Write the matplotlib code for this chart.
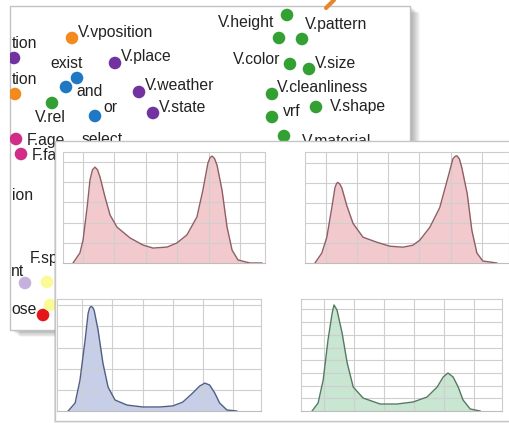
import matplotlib.pyplot as plt
from matplotlib.patches import Rectangle

plt.rcParams["font.family"] = ["Liberation Sans", "DejaVu Sans"]

# background word map (pixel positions)
point_x = [72, 14, 115, 15, 77, 66, 52, 95, 139, 153, 16, 21, 25, 47, 43, 50,
           287, 279, 302, 290, 309, 272, 316, 272, 284]
point_y = [38, 58, 63, 94, 78, 87, 103, 116, 92, 113, 139, 154, 283, 282, 315, 305,
           15, 38, 39, 64, 69, 94, 107, 117, 136]
point_group = ["orange", "purple", "purple", "orange", "blue", "blue", "green", "blue",
               "purple", "purple", "magenta", "magenta", "lavender", "yellow", "red", "yellow",
               "green", "green", "green", "green", "green", "green", "green", "green", "green"]
group_colors = {
    "orange": "#f28a1e", "purple": "#7232a0", "blue": "#1f78c4", "green": "#33a033",
    "magenta": "#d02c88", "lavender": "#c4b2dc", "yellow": "#fafa96", "red": "#e4161a",
}

# labels that are only partly visible at the card's left edge are kept as shown
words = ["V.vposition", "exist", "V.place", "and", "V.rel", "or", "V.weather", "V.state",
         "F.age", "F.face", "select", "F.speed", "V.height", "V.pattern", "V.color",
         "V.size", "V.cleanliness", "V.shape", "vrf", "V.material",
         "tion", "tion", "ion", "nt", "ose"]
word_x = [78, 50, 121, 76, 35, 103, 145, 159, 27, 32, 82, 30, 218, 305, 233, 315, 277,
          330, 283, 302, 12, 12, 12, 11, 11]
word_y = [32, 63, 57, 92, 117, 108, 86, 107, 140, 155, 140, 258, 23, 25, 60, 63, 88,
          107, 112, 141, 43, 80, 195, 271, 310]

arrow_x = [334, 330, 326]
arrow_y = [0, 4, 8]

# density panels: x in grid units, y in grid units
tl_x = [0.68, 0.90, 1.0, 1.13, 1.22, 1.30, 1.38, 1.46, 1.54, 1.70, 1.86, 2.08, 2.50, 2.91,
        3.23, 3.68, 3.99, 4.31, 4.63, 4.82, 4.98, 5.05, 5.11, 5.19, 5.27, 5.43, 5.59, 5.75,
        5.94, 6.32, 6.7]
tl_y = [0, 0.5, 1.14, 2.77, 4.11, 4.62, 4.75, 4.62, 4.26, 3.27, 2.38, 1.78, 1.24, 0.89,
        0.74, 0.79, 0.99, 1.39, 2.28, 3.61, 4.95, 5.22, 5.30, 5.18, 4.85, 3.61, 1.78, 0.64,
        0.15, 0, 0]
tr_x = [0.65, 0.87, 1.03, 1.19, 1.29, 1.34, 1.38, 1.44, 1.51, 1.67, 1.87, 2.19, 2.63,
        3.05, 3.47, 3.79, 4.01, 4.33, 4.65, 4.91, 5.07, 5.14, 5.20, 5.28, 5.36, 5.53, 5.68,
        5.84, 6.03, 6.48]
tr_y = [0, 0.5, 1.29, 2.77, 3.76, 3.97, 4.03, 3.96, 3.76, 2.87, 1.98, 1.29, 1.04, 0.84,
        0.79, 0.89, 1.14, 1.78, 2.77, 4.26, 5.20, 5.33, 5.36, 5.20, 4.75, 3.47, 1.63, 0.50,
        0.10, 0]
bl_x = [0.54, 0.77, 0.93, 1.10, 1.20, 1.25, 1.30, 1.35, 1.40, 1.53, 1.69, 1.86, 2.09, 2.49,
        3.01, 3.57, 4.00, 4.33, 4.66, 4.89, 5.06, 5.22, 5.39, 5.55, 5.79, 6.12]
bl_y = [0, 0.38, 1.46, 3.35, 4.62, 4.88, 4.95, 4.90, 4.76, 3.82, 2.26, 1.13, 0.52, 0.28,
        0.19, 0.19, 0.24, 0.42, 0.85, 1.18, 1.32, 1.23, 0.85, 0.38, 0.05, 0]
br_x = [0.6, 0.8, 0.97, 1.13, 1.27, 1.33, 1.43, 1.6, 1.77, 1.97, 2.3, 2.87, 3.43, 3.97,
        4.43, 4.77, 4.97, 5.13, 5.3, 5.47, 5.63, 5.87, 6.2]
br_y = [0, 0.63, 2.44, 5.59, 7.72, 8.35, 7.95, 6.14, 3.78, 1.89, 1.02, 0.55, 0.55, 0.71,
        1.10, 1.89, 2.68, 2.99, 2.68, 1.89, 0.87, 0.16, 0]

W, H = 510, 423
fig = plt.figure(figsize=(W / 100, H / 100), dpi=100)
bg = fig.add_axes([0, 0, 1, 1])
bg.set_xlim(0, W)
bg.set_ylim(H, 0)
bg.axis("off")

# card with soft shadow
for i in range(1, 11):
    bg.add_patch(Rectangle((10 + i, 6 + i * 0.7), 400, 324, facecolor="black",
                           alpha=0.035, lw=0, zorder=1))
card = Rectangle((10, 6), 400, 324, facecolor="white", edgecolor="#c2c2c2", lw=1, zorder=2)
bg.add_patch(card)

sc = bg.scatter(point_x, point_y, s=82, c=[group_colors[g] for g in point_group],
                linewidths=0, zorder=3)
sc.set_clip_path(card)
for txt, x, y in zip(words, word_x, word_y):
    bg.text(x, y, txt, ha="left", va="center", fontsize=11.3, color="#222222", zorder=4)

bg.plot(arrow_x, arrow_y, color="#e8862a", lw=3, solid_capstyle="round", zorder=3)

# front panel
for i in range(1, 4):
    bg.add_patch(Rectangle((55 - i * 0.3, 141 + i * 0.6), 470, 280, facecolor="black",
                           alpha=0.06, lw=0, zorder=9))
bg.add_patch(Rectangle((55, 141), 470, 280, facecolor="white", edgecolor="#c6c6c6",
                       lw=1, zorder=10))


def density_panel(box, xs, ys, xlim, ylim, n_y, fill, line):
    l, t, r, b = box
    ax = fig.add_axes([l / W, 1 - b / H, (r - l) / W, (b - t) / H])
    ax.fill_between(xs, ys, 0, color=fill, lw=0, zorder=1)
    ax.plot(xs, ys, color=line, lw=1.0, zorder=3)
    ax.set_xlim(*xlim)
    ax.set_ylim(*ylim)
    ax.set_xticks(range(1, 7))
    ax.set_yticks(range(1, n_y + 1))
    ax.set_axisbelow(False)
    ax.grid(True, color="#cfcfcf", lw=0.8, zorder=2)
    ax.tick_params(length=0, labelbottom=False, labelleft=False)
    for sp in ax.spines.values():
        sp.set_color("#cccccc")
        sp.set_linewidth(0.8)
    ax.spines["bottom"].set_color("#bdbdbd")
    return ax


density_panel((63, 152, 265, 263), tl_x, tl_y, (0.36, 6.8), (0, 5.5), 5, "#f2c9cd", "#8e5f65")
density_panel((305, 152, 509, 263), tr_x, tr_y, (0.33, 6.87), (0, 5.55), 5, "#f2c9cd", "#8e5f65")
density_panel((57, 299, 261, 411), bl_x, bl_y, (0.17, 6.92), (0, 5.3), 5, "#c6cfe7", "#4f5f86")
density_panel((301, 299, 502, 411), br_x, br_y, (0.23, 6.93), (0, 8.82), 8, "#c8e6d1", "#557a62")

fig.savefig("out.png", dpi=100)
